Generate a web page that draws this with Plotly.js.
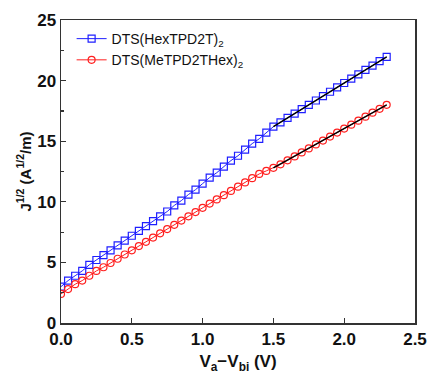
<!DOCTYPE html>
<html>
<head>
<meta charset="utf-8">
<script src="https://cdn.plot.ly/plotly-3.0.1.min.js"></script>
<style>html,body{margin:0;padding:0;background:#fff;}#chart{width:430px;height:374px;}</style>
</head>
<body>
<div id="chart"></div>
<script>
// Data
const xValues = [0,0.05,0.1,0.15,0.2,0.25,0.3,0.35,0.4,0.45,0.5,0.55,0.6,0.65,0.7,0.75,0.8,0.85,0.9,0.95,1.0,1.05,1.1,1.15,1.2,1.25,1.3,1.35,1.4,1.45,1.5,1.55,1.6,1.65,1.7,1.75,1.8,1.85,1.9,1.95,2.0,2.05,2.1,2.15,2.2,2.25,2.3];
const hexValues = [3.0,3.5,3.9,4.3,4.8,5.2,5.6,6.0,6.4,6.8,7.2,7.6,8.0,8.4,8.8,9.2,9.7,10.1,10.6,11.0,11.5,12.0,12.4,12.9,13.4,13.8,14.3,14.8,15.2,15.7,16.2,16.56,16.92,17.28,17.64,18.0,18.36,18.72,19.08,19.44,19.8,20.16,20.52,20.88,21.24,21.6,21.96];
const meValues = [2.4,2.8,3.2,3.5,3.9,4.3,4.6,4.95,5.3,5.65,6.0,6.35,6.7,7.05,7.4,7.75,8.1,8.45,8.8,9.15,9.5,9.85,10.2,10.55,10.9,11.25,11.6,11.95,12.3,12.55,12.8,13.09,13.42,13.74,14.07,14.4,14.73,15.05,15.38,15.71,16.04,16.36,16.69,17.02,17.35,17.67,18.0];
const fitX = [1.5, 2.3];
const hexFit = [16.2, 21.96];
const meFit = [12.8, 18.0];
const seriesNames = ['DTS(HexTPD2T)<sub>2</sub>', 'DTS(MeTPD2THex)<sub>2</sub>'];
const xTicks = [0, 0.5, 1.0, 1.5, 2.0, 2.5];
const xTickLabels = ['0.0', '0.5', '1.0', '1.5', '2.0', '2.5'];
const yTicks = [0, 5, 10, 15, 20, 25];

const traces = [
  {x: xValues, y: hexValues, name: seriesNames[0], type: 'scatter', mode: 'lines+markers',
   line: {color: '#1f1fff', width: 1}, marker: {symbol: 'square-open', size: 7, color: '#1f1fff', line: {width: 1.2}}},
  {x: xValues, y: meValues, name: seriesNames[1], type: 'scatter', mode: 'lines+markers',
   line: {color: '#ff1f1f', width: 1}, marker: {symbol: 'circle-open', size: 7, color: '#ff1f1f', line: {width: 1.2}}},
  {x: fitX, y: hexFit, type: 'scatter', mode: 'lines', showlegend: false, line: {color: '#000', width: 1.5}},
  {x: fitX, y: meFit, type: 'scatter', mode: 'lines', showlegend: false, line: {color: '#000', width: 1.5}}
];

const fam = 'Liberation Sans, Arial, sans-serif';
const axisCommon = {
  showgrid: false, zeroline: false, showline: true, linecolor: '#333', linewidth: 1.5,
  mirror: true, ticks: 'inside', ticklen: 5, tickwidth: 1.3, tickcolor: '#333',
  tickfont: {family: fam, size: 17, color: '#111', weight: 'bold'}
};

const layout = {
  width: 430, height: 374,
  margin: {l: 61, r: 15, t: 20, b: 51},
  paper_bgcolor: '#fff', plot_bgcolor: '#fff',
  font: {family: fam, color: '#111'},
  xaxis: Object.assign({}, axisCommon, {
    range: [0, 2.5], tickvals: xTicks, ticktext: xTickLabels,
    title: {text: '<b>V<sub>a</sub>\u2212V<sub>bi</sub> (V)</b>', font: {size: 17, family: fam, color: '#111'}, standoff: 14}
  }),
  yaxis: Object.assign({}, axisCommon, {
    range: [0, 25], tickvals: yTicks,
    minor: {ticks: 'inside', ticklen: 3, tickwidth: 1.2, tickcolor: '#333', dtick: 2.5, showgrid: false},
    title: {text: '<b>J<sup>1/2</sup> (A<sup>1/2</sup>/m)</b>', font: {size: 15, family: fam, color: '#111'}, standoff: 2}
  }),
  legend: {x: 0.03, y: 0.99, xanchor: 'left', yanchor: 'top', bgcolor: 'rgba(0,0,0,0)',
    font: {size: 14, family: fam, color: '#111'}, tracegroupgap: 0},
  showlegend: true
};

Plotly.newPlot('chart', traces, layout, {displayModeBar: false, staticPlot: true});
</script>
</body>
</html>
